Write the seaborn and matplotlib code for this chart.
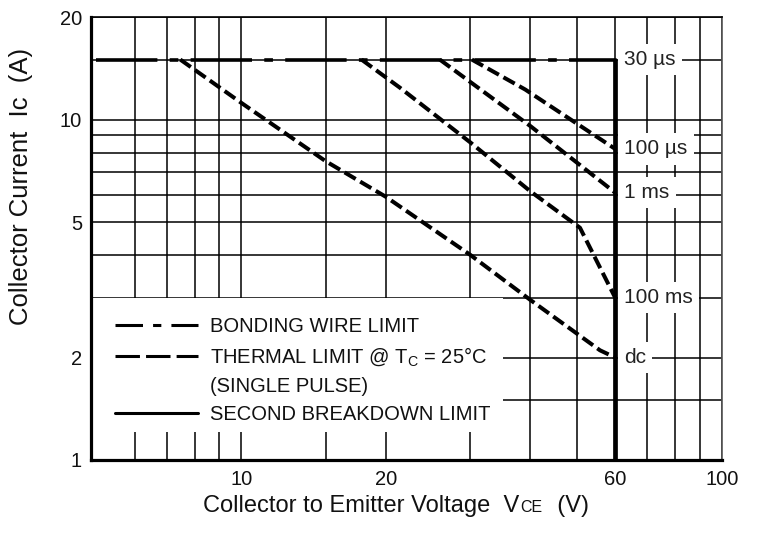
import numpy as np
import pandas as pd
import matplotlib
matplotlib.use("Agg")
import matplotlib.pyplot as plt
import seaborn as sns
from matplotlib.lines import Line2D
from matplotlib.patches import Rectangle
from matplotlib.ticker import FixedLocator, FixedFormatter
from matplotlib.offsetbox import TextArea, HPacker, AnchoredOffsetbox

# ---------------- data ----------------
bond_v = [5.0, 60.0]
bond_i = [15.0, 15.0]

brk_v = [60.0, 60.0]
brk_i = [15.0, 1.0]

t100us_v = [30.2, 39.0, 60.0]
t100us_i = [15.0, 12.25, 8.2]
t1ms_v = [25.9, 40.0, 60.0]
t1ms_i = [15.0, 9.56, 6.1]
t100ms_v = [17.8, 21.4, 30.0, 40.0, 50.7, 60.0]
t100ms_i = [15.0, 12.4, 8.56, 6.15, 4.81, 3.0]
tdc_v = [7.47, 10.0, 15.0, 20.0, 30.0, 40.0, 55.8, 60.0]
tdc_i = [15.0, 11.2, 7.54, 5.93, 4.0, 2.95, 2.1, 2.0]

curve_names = ["30 \u00b5s", "100 \u00b5s", "1 ms", "100 ms", "dc"]
curve_end_i = [15.0, 8.2, 6.1, 3.0, 2.0]

x_grid = [6, 7, 8, 9, 10, 15, 20, 30, 40, 50, 60, 70, 80, 90, 100]
x_labeled = {10: "10", 20: "20", 60: "60", 100: "100"}
y_grid = [1, 1.5, 2, 3, 4, 5, 6, 7, 8, 9, 10, 15, 20]
y_labeled = {1: "1", 2: "2", 5: "5", 10: "10", 20: "20"}

legend_labels = ["BONDING WIRE LIMIT",
                 "THERMAL LIMIT @ T$_{\\mathregular{C}}$ = 25\u00b0C",
                 "(SINGLE PULSE)",
                 "SECOND BREAKDOWN LIMIT"]

# ---------------- style ----------------
sns.set_theme(style="white")
plt.rcParams["font.family"] = ["Liberation Sans", "DejaVu Sans"]
plt.rcParams["mathtext.fontset"] = "custom"
plt.rcParams["mathtext.rm"] = "Liberation Sans"
plt.rcParams["mathtext.it"] = "Liberation Sans:italic"
plt.rcParams["mathtext.bf"] = "Liberation Sans:bold"
plt.rcParams["lines.scale_dashes"] = True

fig = plt.figure(figsize=(7.57, 5.37), dpi=100)
ax = fig.add_axes([0.1202, 0.1434, 0.8332, 0.8249])
ax.set_xscale("log")
ax.set_yscale("log")

thermal = pd.concat([
    pd.DataFrame({"V": t100us_v, "I": t100us_i, "curve": "100us"}),
    pd.DataFrame({"V": t1ms_v, "I": t1ms_i, "curve": "1ms"}),
    pd.DataFrame({"V": t100ms_v, "I": t100ms_i, "curve": "100ms"}),
    pd.DataFrame({"V": tdc_v, "I": tdc_i, "curve": "dc"}),
], ignore_index=True)
bond = pd.DataFrame({"V": bond_v, "I": bond_i})
brk = pd.DataFrame({"V": brk_v, "I": brk_i})

sns.lineplot(data=bond, x="V", y="I", ax=ax, color="black", lw=2.6,
             estimator=None, sort=False, legend=False,
             linestyle=(0, (17, 3.4, 2.4, 3.4)), dash_capstyle="butt", zorder=3)
sns.lineplot(data=thermal, x="V", y="I", units="curve", ax=ax, color="black",
             lw=2.9, estimator=None, sort=False, legend=False,
             linestyle=(0, (3.2, 1.3)), dash_capstyle="butt", zorder=3)
sns.lineplot(data=brk, x="V", y="I", ax=ax, color="black", lw=3.4,
             estimator=None, sort=False, legend=False, zorder=4)

ax.set_xlim(4.87, 100)
ax.set_ylim(1, 20)

# grid / ticks
ax.xaxis.set_major_locator(FixedLocator(x_grid))
ax.xaxis.set_major_formatter(FixedFormatter([x_labeled.get(v, "") for v in x_grid]))
ax.xaxis.set_minor_locator(FixedLocator([]))
ax.yaxis.set_major_locator(FixedLocator(y_grid))
ax.yaxis.set_major_formatter(FixedFormatter([y_labeled.get(v, "") for v in y_grid]))
ax.yaxis.set_minor_locator(FixedLocator([]))
ax.tick_params(axis="x", length=0, pad=7, labelsize=14.5, labelcolor="#111111")
ax.tick_params(axis="y", length=0, pad=6.5, labelsize=14.5, labelcolor="#111111")
ax.set_axisbelow(True)
ax.grid(True, which="major", color="black", lw=1.1)

for side, w, c in [("left", 2.3, "black"), ("bottom", 2.3, "black"),
                   ("top", 1.2, "black"), ("right", 1.2, "#555555")]:
    ax.spines[side].set_visible(True)
    ax.spines[side].set_linewidth(w)
    ax.spines[side].set_color(c)
    ax.spines[side].set_zorder(5)

# curve labels with white boxes
for name, yi in zip(curve_names, curve_end_i):
    ax.annotate(name, xy=(60, yi), xytext=(9, 0), textcoords="offset pixels",
                ha="left", va="center", fontsize=15, color="#222222",
                bbox=dict(boxstyle="square,pad=0.3", fc="white", ec="none"),
                zorder=1.5)

# legend background
ax.add_patch(Rectangle((0.002, 0.0632), 0.651, 0.3025, transform=ax.transAxes,
                       fc="white", ec="none", zorder=1))

handles = [
    Line2D([], [], color="black", lw=2.2, linestyle=(0, (9, 3.3, 2.7, 3.3)),
           dash_capstyle="butt"),
    Line2D([], [], color="black", lw=2.2, linestyle=(0, (8, 2)),
           dash_capstyle="butt"),
    Line2D([], [], color="none", lw=0),
    Line2D([], [], color="black", lw=2.2),
]
leg = ax.legend(handles, legend_labels, loc="upper left",
                bbox_to_anchor=(0.038, 0.322), frameon=False, fontsize=14.5,
                handlelength=4.13, handletextpad=0.6, labelspacing=0.45,
                borderpad=0, borderaxespad=0)
for t in leg.get_texts():
    t.set_color("#111111")
leg.set_zorder(6)

# axis labels
ax.set_xlabel("")
ax.set_ylabel("Collector Current  Ic  (A)", fontsize=18.5, color="#111111")
ax.yaxis.set_label_coords(-0.092, 0.617)

xl = HPacker(children=[
    TextArea("Collector to Emitter Voltage  V", textprops=dict(fontsize=17, color="#111111")),
    TextArea("CE", textprops=dict(fontsize=11.5, color="#111111")),
    TextArea("  (V)", textprops=dict(fontsize=17, color="#111111")),
], align="baseline", pad=0, sep=1)
ab = AnchoredOffsetbox(loc="upper left", child=xl, pad=0, borderpad=0,
                       frameon=False, bbox_to_anchor=(0.1776, -0.079),
                       bbox_transform=ax.transAxes)
ax.add_artist(ab)

fig.savefig("out.png", dpi=100)
